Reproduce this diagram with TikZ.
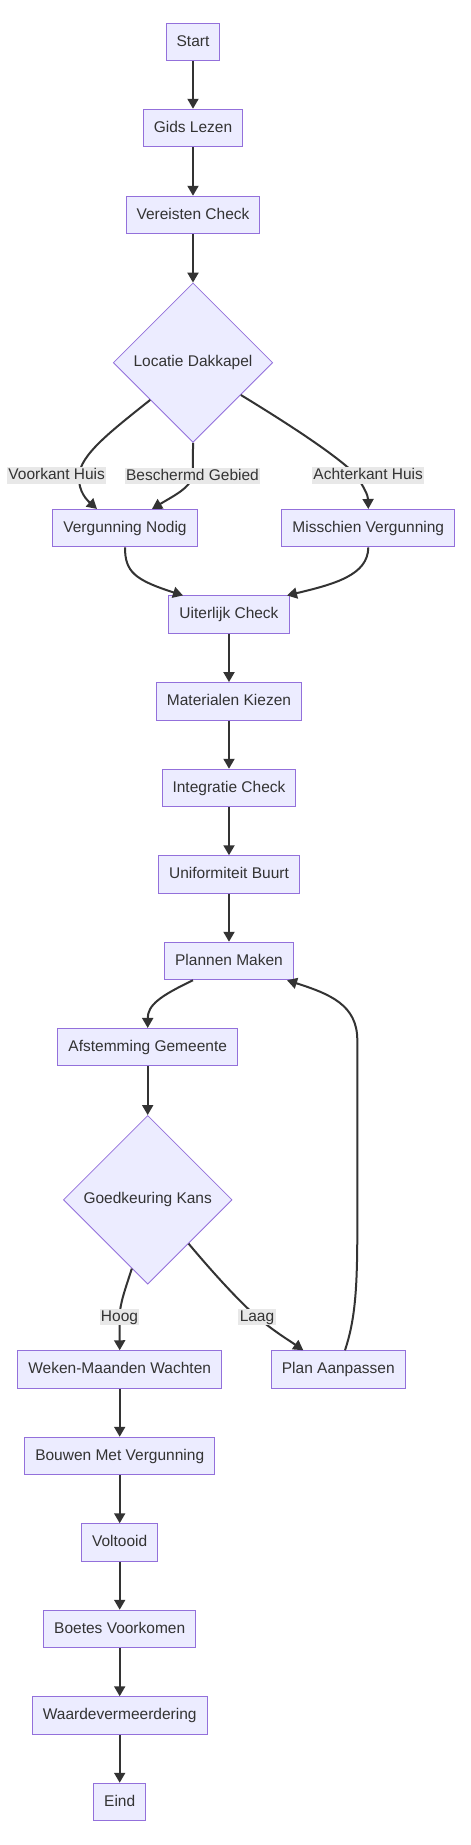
\documentclass[tikz,border=0pt]{standalone}
\usepackage{fontspec}
\setmainfont{Liberation Sans}
\usetikzlibrary{shapes.geometric,arrows.meta}
\definecolor{nodefill}{HTML}{ECECFF}
\definecolor{nodeline}{HTML}{9370DB}
\definecolor{edgecol}{HTML}{333333}
\definecolor{txtcol}{HTML}{333333}
\definecolor{lblbg}{HTML}{E8E8E8}
\begin{document}
\begin{tikzpicture}[x=1pt,y=-1pt,
  font=\fontsize{15.5}{18}\selectfont,
  box/.style={draw=nodeline,fill=nodefill,line width=1pt,text=txtcol,
    inner xsep=10.5pt,inner ysep=0pt,minimum height=37.5pt,
    text height=11.5pt,text depth=3.5pt},
  decision/.style={diamond,draw=nodeline,fill=nodefill,line width=0.8pt,text=txtcol,
    inner sep=0pt,aspect=1},
  arr/.style={draw=edgecol,line width=2pt,-{Triangle[length=10pt,width=11pt]}},
  lbl/.style={fill=lblbg,text=txtcol,inner xsep=1.3pt,inner ysep=0.8pt,
    text height=11.6pt,text depth=3.2pt}]
\useasboundingbox (0,0) rectangle (471,1845);

\node[box] (start) at (193,42) {Start};
\node[box] (gids) at (193,128) {Gids Lezen};
\node[box] (ver) at (193,215) {Vereisten Check};
\node[decision,minimum width=159.4pt,minimum height=159.4pt] (loc) at (193,362.7) {Locatie Dakkapel};
\node[box] (vn) at (125,528.2) {Vergunning Nodig};
\node[box] (mv) at (368.3,528.2) {Misschien Vergunning};
\node[box] (uc) at (229,614.7) {Uiterlijk Check};
\node[box] (mat) at (229,701.3) {Materialen Kiezen};
\node[box] (int) at (229,788) {Integratie Check};
\node[box] (uni) at (229,874.5) {Uniformiteit Buurt};
\node[box] (pn) at (229,961) {Plannen Maken};
\node[box] (af) at (147.7,1047.2) {Afstemming Gemeente};
\node[decision,minimum width=168.7pt,minimum height=168.7pt] (gk) at (147.7,1199.8) {Goedkeuring Kans};
\node[box] (wm) at (119.7,1369.5) {Weken-Maanden Wachten};
\node[box] (pa) at (338.3,1369.5) {Plan Aanpassen};
\node[box] (bmv) at (119.7,1456) {Bouwen Met Vergunning};
\node[box] (vol) at (119.7,1542.5) {Voltooid};
\node[box] (boe) at (119.7,1629) {Boetes Voorkomen};
\node[box] (waa) at (119.7,1715.5) {Waardevermeerdering};
\node[box] (eind) at (119.7,1802) {Eind};

% straight edges
\draw[arr] (start) -- (gids);
\draw[arr] (gids) -- (ver);
\draw[arr] (ver) -- (loc);
\draw[arr] (uc) -- (mat);
\draw[arr] (mat) -- (int);
\draw[arr] (int) -- (uni);
\draw[arr] (uni) -- (pn);
\draw[arr] (af) -- (gk);
\draw[arr] (wm) -- (bmv);
\draw[arr] (bmv) -- (vol);
\draw[arr] (vol) -- (boe);
\draw[arr] (boe) -- (waa);
\draw[arr] (waa) -- (eind);

% curved edges
\coordinate (vkpt) at (79,476);
\coordinate (bgpt) at (192.5,476);
\coordinate (akpt) at (357,476);
\draw[arr] (loc.221) .. controls (110,432) and (80,455) .. (vkpt)
  .. controls (78,492) and (88,501) .. ([xshift=-28pt]vn.north);
\draw[arr] (loc.south) .. controls (193,458) and (193,468) .. (bgpt)
  .. controls (190,488) and (175,495) .. ([xshift=27pt]vn.north);
\draw[arr] (loc.-34) .. controls (295,428) and (340,458) .. (akpt)
  .. controls (364,488) and (368,495) .. (mv.north);
\draw[arr] (vn.south) .. controls (125,572) and (135,580) .. ([xshift=-46pt]uc.north);
\draw[arr] (mv.south) .. controls (368,575) and (335,584) .. ([xshift=58pt]uc.north);
\draw[arr] ([xshift=-36pt]pn.south) .. controls (160,996) and (147.7,1005) .. (af.north);
\coordinate (hgpt) at (119.5,1317);
\coordinate (lgpt) at (257,1317);
\draw[arr] (gk.257) .. controls (125,1290) and (120,1303) .. (hgpt) -- (wm.north);
\draw[arr] (gk.-47) .. controls (215,1275) and (238,1300) .. (lgpt)
  .. controls (275,1332) and (290,1341) .. ([xshift=-35pt]pa.north);
\draw[arr] ([xshift=6.7pt]pa.north) .. controls (355,1320) and (357.3,1290) .. (357.3,1230)
  -- (357.3,1040) .. controls (357.3,1005) and (330,994) .. ([xshift=58pt]pn.south);

% labels
\node[lbl] (vk) at (56.7,475.5) {Voorkant Huis};
\node[lbl] (bg) at (bgpt) {Beschermd Gebied};
\node[lbl] (ak) at (368.2,475.5) {Achterkant Huis};
\node[lbl] (hg) at (hgpt) {Hoog};
\node[lbl] (lg) at (lgpt) {Laag};
\end{tikzpicture}
\end{document}
